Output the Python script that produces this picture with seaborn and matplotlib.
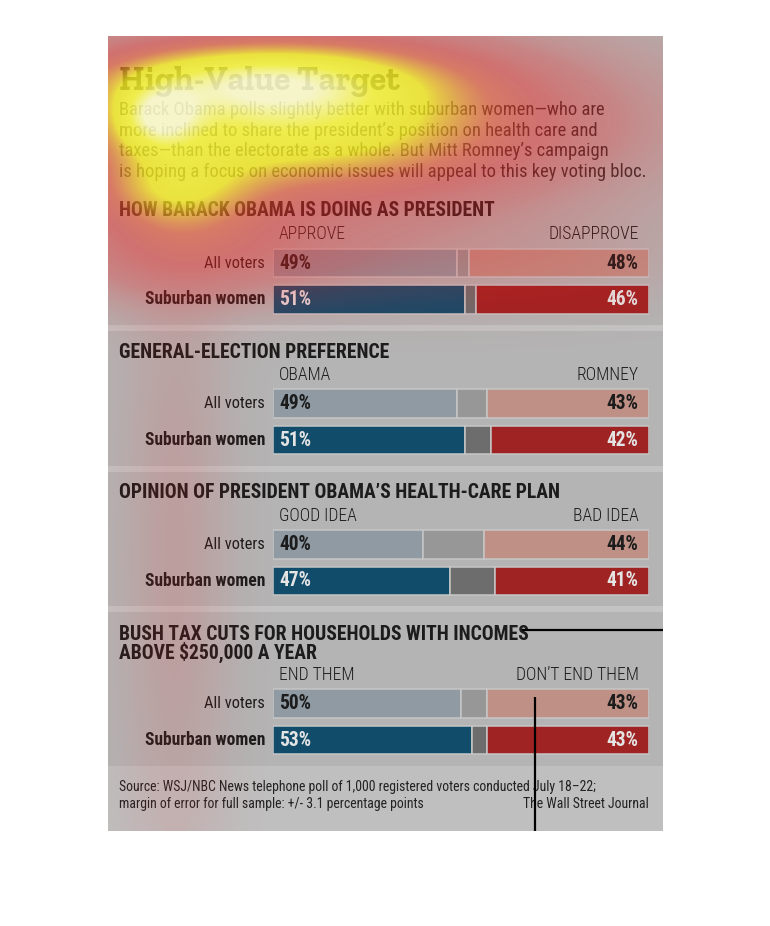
import numpy as np
import matplotlib
matplotlib.use("Agg")
import matplotlib.pyplot as plt
import seaborn as sns
from matplotlib.colors import LinearSegmentedColormap
from matplotlib.patches import Rectangle

# ---------------- data ----------------
title = "High-Value Target"
intro_lines = [
    "Barack Obama polls slightly better with suburban women\u2014who are",
    "more inclined to share the president\u2019s position on health care and",
    "taxes\u2014than the electorate as a whole. But Mitt Romney\u2019s campaign",
    "is hoping a focus on economic issues will appeal to this key voting bloc.",
]
headings = [
    "HOW BARACK OBAMA IS DOING AS PRESIDENT",
    "GENERAL-ELECTION PREFERENCE",
    "OPINION OF PRESIDENT OBAMA\u2019S HEALTH-CARE PLAN",
    "BUSH TAX CUTS FOR HOUSEHOLDS WITH INCOMES\nABOVE $250,000 A YEAR",
]
left_labels = ["APPROVE", "OBAMA", "GOOD IDEA", "END THEM"]
right_labels = ["DISAPPROVE", "ROMNEY", "BAD IDEA", "DON\u2019T END THEM"]
rows = ["All voters", "Suburban women"]
left_vals = [[49, 51], [49, 51], [40, 47], [50, 53]]
right_vals = [[48, 46], [43, 42], [44, 41], [43, 43]]
source_lines = [
    "Source: WSJ/NBC News telephone poll of 1,000 registered voters conducted July 18\u201322;",
    "margin of error for full sample: +/- 3.1 percentage points",
]
credit = "The Wall Street Journal"

# eye-tracking fixation blobs: x, y, weight, spread x, spread y (image pixels)
fix_x = [158, 270, 260, 175, 380, 190, 480, 175]
fix_y = [118, 120, 78, 190, 125, 252, 262, 560]
fix_w = [0.6, 0.72, 0.6, 0.45, 0.33, 0.27, 0.08, 0.09]
fix_sx = [28, 140, 110, 55, 200, 110, 150, 40]
fix_sy = [22, 45, 24, 28, 70, 36, 35, 260]

# ---------------- style ----------------
sns.set_style("white")
plt.rcParams["font.family"] = ["Roboto Condensed", "DejaVu Sans"]

W, H = 770, 926
panel_bg = "#b4b4b4"
strip_bg = "#c3c3c3"
foot_bg = "#bfbfbf"
c_lblue, c_dblue = "#8b9aa7", "#03507a"
c_lgray, c_dgray = "#979797", "#6d6d6d"
c_lred, c_dred = "#bf9086", "#a02323"
edge = "#c6c6c6"
ink = "#1c1c1c"

fig = plt.figure(figsize=(W / 100, H / 100), dpi=100)
fig.patch.set_facecolor("white")
ax = fig.add_axes([0, 0, 1, 1])
ax.set_xlim(0, W)
ax.set_ylim(H, 0)
ax.axis("off")

# panel and separators
ax.add_patch(Rectangle((108, 36), 555, 795, color=panel_bg, lw=0))
for y0 in [325, 466, 606]:
    ax.add_patch(Rectangle((108, y0), 555, 6, color=strip_bg, lw=0))
ax.add_patch(Rectangle((108, 766), 555, 65, color=foot_bg, lw=0))


def fit(texts, target):
    fig.canvas.draw()
    r = fig.canvas.get_renderer()
    w = texts[0].get_window_extent(r).width
    s = texts[0].get_fontsize() * target / w
    for t in texts:
        t.set_fontsize(s)


t_title = ax.text(119, 90, title, family=["Zilla Slab", "DejaVu Serif"], weight="bold",
                  fontsize=28, color="#262626", va="baseline", ha="left")
fit([t_title], 280)

intro_y = [110, 130.5, 151, 172]
t_intro = [ax.text(119, y, s, fontsize=12, color="#2e2e2e", va="center", ha="left")
           for s, y in zip(intro_lines, intro_y)]
fit([t_intro[3]] + t_intro[:3], 525)

sec_head_y = [211, 352, 493, 644]
sec_col_y = [234, 375, 516, 675]
sec_bar_y = [263, 403.5, 544.5, 703.5]
row_gap = 36.5
bar_x0, bar_x1 = 273, 649

t_heads, t_cols, t_rows_n, t_rows_b, t_pct = [], [], [], [], []
for k in range(4):
    t_heads.append(ax.text(119, sec_head_y[k], headings[k], fontsize=12, weight="bold",
                           color=ink, va="center", ha="left", linespacing=0.82))
    t_cols.append(ax.text(279, sec_col_y[k], left_labels[k], fontsize=10, weight="light",
                          color=ink, va="center", ha="left"))
    t_cols.append(ax.text(639, sec_col_y[k], right_labels[k], fontsize=10, weight="light",
                          color=ink, va="center", ha="right"))
    t_rows_n.append(ax.text(265, sec_bar_y[k], rows[0], fontsize=11, color=ink,
                            va="center", ha="right"))
    t_rows_b.append(ax.text(265, sec_bar_y[k] + row_gap, rows[1], fontsize=11, weight="bold",
                            color=ink, va="center", ha="right"))

    # bar axes for this section
    top = sec_bar_y[k] - row_gap / 2
    bot = sec_bar_y[k] + row_gap * 1.5
    bax = fig.add_axes([bar_x0 / W, 1 - bot / H, (bar_x1 - bar_x0) / W, (bot - top) / H])
    bax.patch.set_alpha(0)
    lv, rv = left_vals[k], right_vals[k]
    sns.barplot(x=lv, y=rows, hue=rows, palette=[c_lblue, c_dblue], orient="h",
                width=0.78, edgecolor=edge, linewidth=1.1, legend=False, ax=bax)
    mid = [100 - a - b for a, b in zip(lv, rv)]
    bax.barh([0, 1], mid, left=lv, height=0.78, color=[c_lgray, c_dgray],
             edgecolor=edge, linewidth=1.1)
    bax.barh([0, 1], rv, left=[100 - v for v in rv], height=0.78, color=[c_lred, c_dred],
             edgecolor=edge, linewidth=1.1)
    bax.set_xlim(0, 100)
    bax.set_ylim(1.5, -0.5)
    bax.axis("off")
    for i in range(2):
        col = ink if i == 0 else "#e4e4e4"
        t_pct.append(bax.text(1.6, i, f"{lv[i]}%", fontsize=11, weight="bold", color=col,
                              va="center", ha="left"))
        t_pct.append(bax.text(97.1, i, f"{rv[i]}%", fontsize=11, weight="bold", color=col,
                              va="center", ha="right"))

fit(t_heads, 374)
fit([t_cols[1]] + [t for t in t_cols if t is not t_cols[1]], 90)
fit(t_rows_b, 120)
fit(t_rows_n, 61)
fit(t_pct, 32)

t_src = [ax.text(119, y, s, fontsize=9, color="#222222", va="center", ha="left")
         for s, y in zip(source_lines, [787, 804])]
fit(t_src, 478)
t_cred = ax.text(649, 804, credit, fontsize=t_src[0].get_fontsize(), color="#222222",
                 va="center", ha="right")

# ---------------- heat overlay ----------------
gx, gy = np.meshgrid(np.arange(W) + 0.5, np.arange(H) + 0.5)
heat = np.zeros((H, W))
for x0, y0, w0, sx, sy in zip(fix_x, fix_y, fix_w, fix_sx, fix_sy):
    heat += w0 * np.exp(-((gx - x0) ** 2 / (2 * sx ** 2) + (gy - y0) ** 2 / (2 * sy ** 2)))
hmax = 1.3
heat = np.clip(heat, 0, hmax)

stops = [
    (0.0, (0.95, 0.12, 0.12, 0.0)),
    (0.06, (0.95, 0.12, 0.12, 0.1)),
    (0.2, (0.95, 0.12, 0.12, 0.32)),
    (0.35, (0.95, 0.14, 0.13, 0.46)),
    (0.5, (0.96, 0.3, 0.15, 0.55)),
    (0.62, (0.97, 0.6, 0.12, 0.64)),
    (0.78, (0.99, 0.95, 0.1, 0.76)),
    (1.05, (1.0, 0.99, 0.2, 0.8)),
    (1.3, (1.0, 1.0, 0.8, 0.88)),
]
heat_cmap = LinearSegmentedColormap.from_list("gaze", [(v / hmax, c) for v, c in stops])

ov = fig.add_axes([0, 0, 1, 1], zorder=10)
ov.axis("off")
ov.patch.set_alpha(0)
img = ov.imshow(heat, cmap=heat_cmap, vmin=0, vmax=hmax, extent=[0, W, H, 0],
                interpolation="bilinear", aspect="auto")
clip = Rectangle((108, 36), 555, 795, transform=ov.transData, fill=False, lw=0)
img.set_clip_path(clip)
ov.set_xlim(0, W)
ov.set_ylim(H, 0)

# stray cursor lines
ov.plot([522, 663], [630, 630], color="black", lw=1.6, solid_capstyle="butt")
ov.plot([535, 535], [697, 831], color="black", lw=1.6, solid_capstyle="butt")

fig.savefig("out.png", dpi=100)
